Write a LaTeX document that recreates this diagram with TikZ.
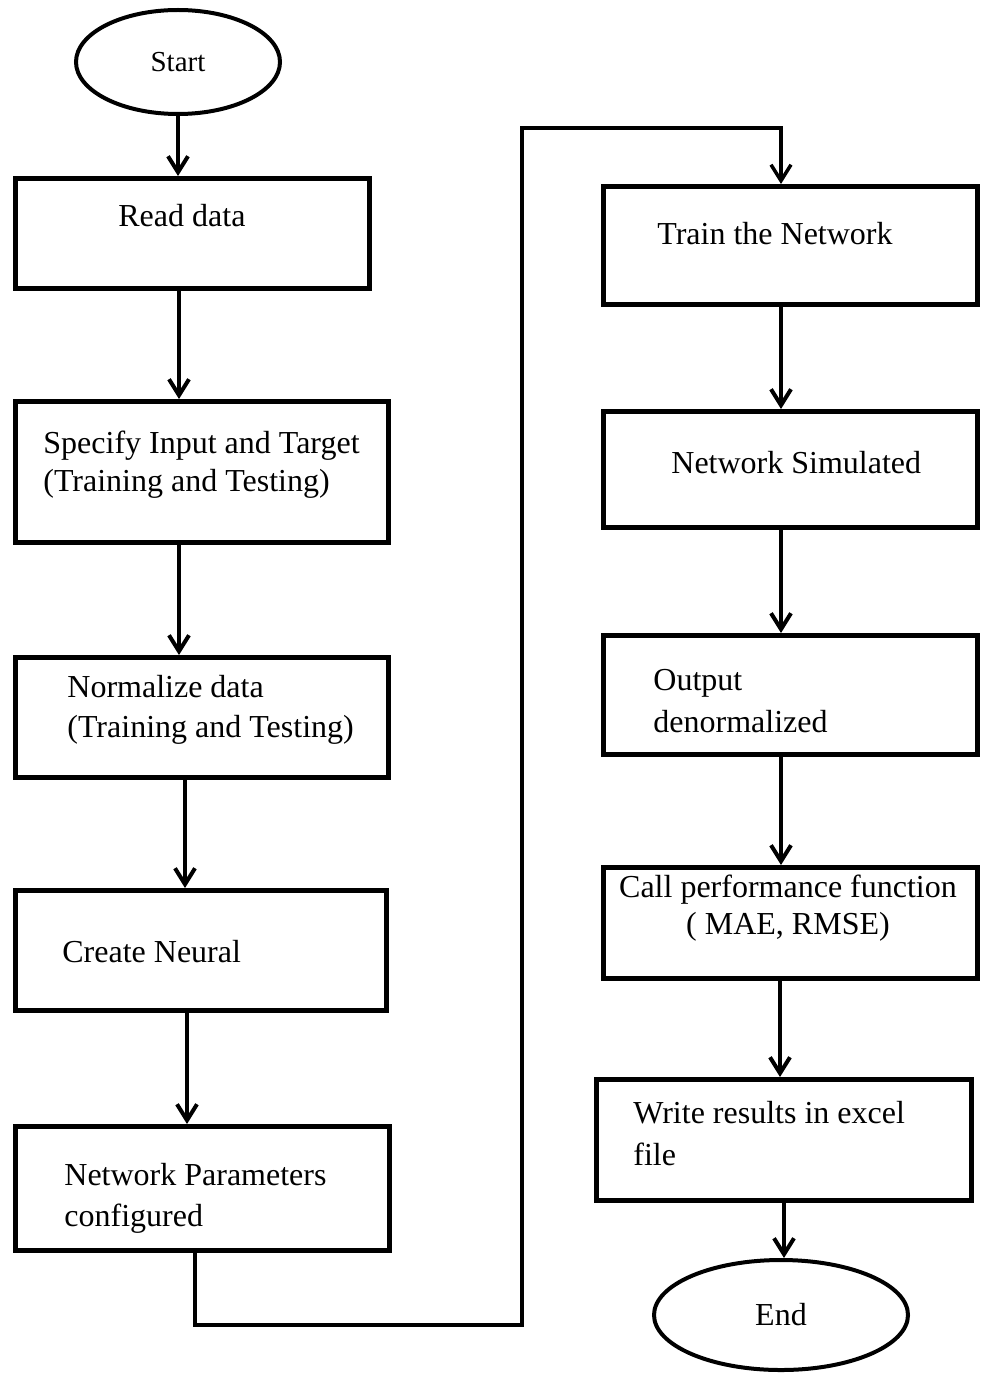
\documentclass[tikz,border=0pt]{standalone}
\usepackage{fontspec}
\setmainfont{Liberation Serif}
\usetikzlibrary{arrows.meta,shapes.geometric}

\tikzset{
  box/.style={draw, line width=2.5pt, inner sep=0pt},
  term/.style={draw, ellipse, line width=2pt, inner sep=0pt, font=\fontsize{16}{20}\selectfont},
  txt/.style={inner sep=0pt, anchor=base west, align=left, font=\fontsize{16}{20}\selectfont},
  arr/.style={-{Straight Barb[length=8pt,width=10pt]}, line width=2pt},
  loopline/.style={arr, line width=1.75pt},
}

\begin{document}
\begin{tikzpicture}[x=0.5pt,y=-0.5pt]
\useasboundingbox (0,0) rectangle (983,1374);
% start and end
\node[term, minimum width=102pt, minimum height=52pt, font=\fontsize{14.5}{17}\selectfont] (start) at (178,62) {Start};
\node[term, minimum width=127pt, minimum height=55pt] (end) at (781,1315) {End};
% left column
\node[box, minimum width=177pt, minimum height=55pt] (read) at (192.5,233.5) {};
\node[box, minimum width=186.5pt, minimum height=70.5pt] (spec) at (202,472) {};
\node[box, minimum width=186.5pt, minimum height=60pt] (norm) at (202,717.5) {};
\node[box, minimum width=185.5pt, minimum height=60pt] (create) at (201,950.5) {};
\node[box, minimum width=187pt, minimum height=62pt] (param) at (202.5,1188.5) {};
% right column
\node[box, minimum width=187pt, minimum height=59pt] (train) at (790.5,245.5) {};
\node[box, minimum width=187pt, minimum height=58pt] (sim) at (790.5,469.5) {};
\node[box, minimum width=187pt, minimum height=59.5pt] (out) at (790.5,695) {};
\node[box, minimum width=187pt, minimum height=55.5pt] (perf) at (790.5,923) {};
\node[box, minimum width=187.5pt, minimum height=60.5pt] (write) at (784,1140) {};
% texts (base = last line)
\node[txt] (readt) at (118,227) {Read data};
\node[txt, font=\fontsize{16}{19}\selectfont] (spect) at (43,491) {Specify Input and Target\\(Training and Testing)};
\node[txt] (normt) at (67,737) {Normalize data\\(Training and Testing)};
\node[txt] (createt) at (62,962) {Create Neural};
\node[txt, font=\fontsize{16}{20.5}\selectfont] (paramt) at (64,1226) {Network Parameters\\configured};
\node[txt] (traint) at (657,245) {Train the Network};
\node[txt] (simt) at (671,473) {Network Simulated};
\node[txt, font=\fontsize{16}{21}\selectfont] (outt) at (653,732) {Output\\denormalized};
\node[txt, anchor=base, align=center, font=\fontsize{16}{18.5}\selectfont] (perft) at (788,934) {Call performance function\\( MAE, RMSE)};
\node[txt, font=\fontsize{16}{21}\selectfont] (writet) at (633,1165) {Write results in excel\\file};
% connectors
\coordinate (loopbot) at (522,1325);
\coordinate (looptop) at (522,128);
\draw[arr] (start.south) -- (start.south |- read.north);
\draw[arr] ([xshift=-6.75pt]read.south) -- ([xshift=-6.75pt]read.south |- spec.north);
\draw[arr] ([xshift=-11.5pt]spec.south) -- ([xshift=-11.5pt]spec.south |- norm.north);
\draw[arr] ([xshift=-8.5pt]norm.south) -- ([xshift=-8.5pt]norm.south |- create.north);
\draw[arr] ([xshift=-7pt]create.south) -- ([xshift=-7pt]create.south |- param.north);
\draw[loopline] ([xshift=-3.75pt]param.south) |- (loopbot) -- (looptop) -| ([xshift=-4.75pt]train.north);
\draw[arr] ([xshift=-4.75pt]train.south) -- ([xshift=-4.75pt]train.south |- sim.north);
\draw[arr] ([xshift=-4.75pt]sim.south) -- ([xshift=-4.75pt]sim.south |- out.north);
\draw[arr] ([xshift=-4.75pt]out.south) -- ([xshift=-4.75pt]out.south |- perf.north);
\draw[arr] ([xshift=-5.25pt]perf.south) -- ([xshift=-5.25pt]perf.south |- write.north);
\draw[arr] (write.south) -- (write.south |- end.north);
\end{tikzpicture}
\end{document}
